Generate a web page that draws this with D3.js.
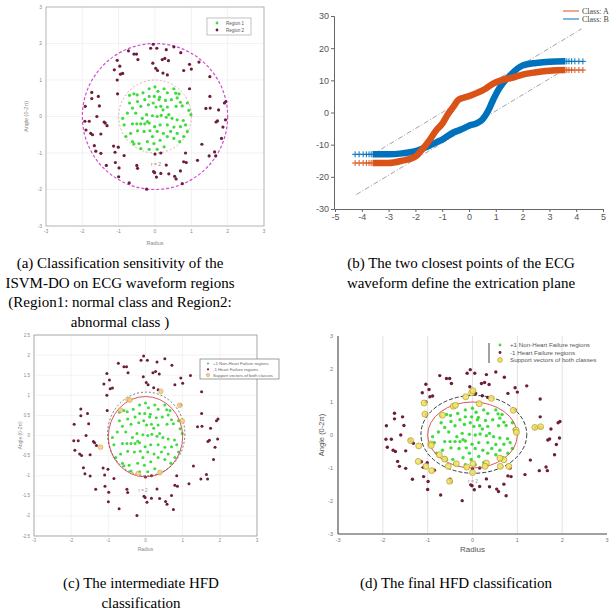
<!DOCTYPE html>
<html>
<head>
<meta charset="utf-8">
<title>ISVM-DO HFD figure</title>
<script src="https://d3js.org/d3.v7.min.js"></script>
<style>
    body { margin: 0; background: #fff; }
    svg { display: block; font-family: "Liberation Sans", Arial, sans-serif; }
    .cap { font-family: "Liberation Serif", "Times New Roman", serif; font-size: 15px; fill: #000; text-anchor: middle; }
</style>
</head>
<body>
<svg id="fig" width="616" height="612"></svg>
<script>
    // shared scatter data (radius, angle) used by panels a, c, d
    const region1 = [
        [-0.7,0.58],[-0.58,0.62],[-0.49,0.59],[-0.33,0.65],[-0.16,0.76],[0,0.81],[0.08,0.69],[0.25,0.76],
        [0.34,0.65],[0.57,0.64],[0.66,0.62],[0.52,0.76],[-0.02,0.55],[0.13,0.53],[0.29,0.44],[0.70,0.39],
        [0.89,0.37],[0.93,0.17],[0.99,0.05],[0.75,0.29],[0.58,0.28],[0.34,0.26],[0.16,0.28],[0.03,0.26],
        [-0.18,0.32],[-0.28,0.46],[-0.48,0.41],[-0.70,0.37],[-0.76,0.09],[-0.89,-0.05],[-0.85,-0.23],[-0.62,-0.2],
        [-0.50,-0.2],[-0.39,-0.2],[-0.28,-0.2],[-0.21,-0.14],[-0.23,0.05],[-0.07,0.02],[0.06,0],[0.17,0.03],
        [0.31,-0.02],[0.38,0.05],[0.47,-0.05],[0.61,-0.09],[0.78,-0.11],[0.84,-0.23],[0.70,-0.28],[0.52,-0.29],
        [0.34,-0.23],[0.14,-0.23],[-0.01,-0.28],[-0.14,-0.39],[-0.30,-0.41],[-0.48,-0.39],[-0.67,-0.46],[-0.80,-0.55],
        [-0.62,-0.69],[-0.44,-0.74],[-0.21,-0.69],[-0.03,-0.74],[0.14,-0.65],[0.34,-0.55],[0.52,-0.60],[0.68,-0.69],
        [0.79,-0.55],[0.89,-0.41],[0.25,-0.83],[0.06,-0.90],[-0.16,-0.90],[-0.39,-0.88],[-0.58,-0.75],[-0.07,-0.55],
        [-0.16,-0.18],[-0.35,-0.05],[-0.53,0.09],[0.11,0.46],[-0.05,0.37],[0.22,0.18],[0.45,0.46],[0.61,0.51],
        [-0.16,0.55],[-0.39,0.28],[-0.62,0.23],[0.06,-0.41],[0.23,-0.46],[0.43,-0.41],[0.61,-0.46]
    ];
    const region2 = [
        [-0.05,1.98],[-0.12,1.87],[0.05,1.87],[0.31,1.83],[0.52,1.91],[0.71,1.75],[-0.73,1.80],[-0.51,1.71],
        [-0.47,1.56],[-0.06,1.46],[0.27,1.59],[0.37,1.53],[0.02,1.32],[0.07,1.26],[0.22,1.19],[0.34,1.14],
        [0.79,1.26],[0.95,1.43],[1.00,1.30],[1.21,1.49],[-1.04,1.54],[-1.12,1.28],[-0.89,1.18],[-1.04,1.00],
        [1.51,1.09],[0.95,0.76],[1.51,0.55],[1.95,0.41],[1.91,0.37],[1.40,0.22],[1.52,0.23],[1.75,0.18],
        [1.94,-0.09],[1.87,-0.29],[1.83,-0.60],[1.29,-0.76],[1.64,-0.97],[1.49,-1.08],[1.17,-1.20],[0.79,-1.24],
        [0.84,-1.00],[0.70,-1.49],[0.58,-1.71],[0.54,-1.64],[0.75,-1.84],[0.38,-1.57],[0.31,-1.33],[0.16,-1.0],
        [0,-1.03],[-0.01,-1.54],[0.04,-1.66],[-0.23,-1.99],[-0.71,-1.82],[-1.00,-1.65],[-0.50,-1.34],[-0.48,-1.42],
        [-0.85,-1.07],[-1.10,-0.98],[-1.01,-0.84],[-1.14,-0.81],[-1.09,-1.26],[-1.34,-1.34],[-1.49,-1.01],[-1.63,-0.95],
        [-1.67,-0.80],[-1.72,-0.50],[-1.77,-0.46],[-1.49,-0.48],[-1.90,-0.37],[-1.93,-0.13],[-1.92,0.28],[-1.74,0.49],
        [-1.56,0.55],[-1.74,0.66],[-1.37,-0.18],[-1.32,-0.25],[-1.40,-0.15],[-1.03,0.62],[-1.53,0.29],[1.68,-0.15],
        [1.72,-0.12],[-0.97,1.38],[-0.58,1.71],[-1.6,0.0],[-1.81,-0.13],[0.16,-1.56],[-0.04,-1.51],[-0.99,-1.41],
        [1.67,-1.08],[0.86,-1.26],[0.2,1.56],[-0.95,1.16]
    ];
    // highlighted boundary points
    const supportC = [
        [-0.47,0.9],[-0.42,0.88],[-0.67,0.63],[0.41,1.1],[0.92,0.75],[0.99,0.36],[-1.21,-0.29],[0.39,-0.92],[-0.2,-0.95]
    ];
    const supportD = [
        [-0.02,1.28],[0.01,1.34],[-0.15,1.16],[0.15,0.95],[0.42,1.11],[0.91,0.75],[0.97,0.15],[0.98,0.08],
        [1.39,0.23],[1.52,0.25],[0.70,-0.75],[0.61,-0.70],[0.81,-0.95],[0.31,-0.85],[0.28,-0.95],[0.01,-0.87],
        [0,-1.14],[-0.13,-0.97],[-0.36,-0.87],[-0.54,-0.95],[-0.62,-0.73],[-0.74,-0.60],[-0.91,-1.08],[-1.04,-0.95],
        [-1.21,-0.80],[-1.20,-0.33],[-1.38,-0.17],[-0.93,-0.27],[-0.92,-0.32],[-1.06,0.63],[-1.08,0.97],[-0.67,0.60],
        [-0.43,0.87],[-0.38,0.90],[-0.51,-1.40],[0.62,-0.95]
    ];

    // panel b: the two class curves
    const classAX = [-3.6,-3,-2.5,-2,-1.8,-1.5,-1.2,-1,-0.8,-0.6,-0.4,-0.2,0,0.3,0.6,0.9,1.2,1.6,2,2.5,3,3.6];
    const classAY = [-15.7,-15.7,-15,-13.7,-12,-8.9,-5.3,-3.5,-0.7,1.6,3.9,4.6,5.1,6.1,7.3,9,10,10.8,11.8,12.5,13,13.2];
    const classBX = [-3.6,-3,-2.5,-2,-1.5,-1.2,-1,-0.6,-0.3,0,0.3,0.5,0.7,0.9,1.1,1.3,1.5,1.8,2,2.5,3,3.6];
    const classBY = [-13,-13,-12.7,-12,-10.4,-9.2,-8.4,-6.3,-5.3,-4.1,-3.3,-2.2,0.3,3.9,7.1,9.5,11.2,13.6,14.6,15.4,15.8,15.9];
    const plusLeftX = [-4.25,-4.1,-3.95,-3.83,-3.73,-3.65];
    const plusRightX = [3.65,3.73,3.83,3.95,4.1,4.25];
    const upperSepX = [-3.6, 4.2], upperSepY = [-13, 26];
    const lowerSepX = [-4.2, 3.6], lowerSepY = [-25.5, 13.5];

    const ticks6 = [-3,-2,-1,0,1,2,3];
    const ticksBX = [-5,-4,-3,-2,-1,0,1,2,3,4,5];
    const ticksBY = [-30,-20,-10,0,10,20,30];
    const ticksCY = [-2.5,-2,-1.5,-1,-0.5,0,0.5,1,1.5,2,2.5];

    const legendA = ["Region 1", "Region 2"];
    const legendB = ["Class: A", "Class: B"];
    const legendCD = ["+1 Non-Heart Failure regions", "-1 Heart Failure regions", "Support vectors of both classes"];

    const GREEN = "#3fdc3f", RED = "#6e1c3c", ORANGE = "#d95319", BLUE = "#0072bd";

    const svg = d3.select("#fig");

    function grid(g, x, y, xt, yt, color, vOnly) {
        g.append("g").selectAll("line").data(xt).join("line")
            .attr("x1", d => x(d)).attr("x2", d => x(d))
            .attr("y1", y.range()[0]).attr("y2", y.range()[1])
            .attr("stroke", color).attr("stroke-width", 0.7);
        if (!vOnly) {
            g.append("g").selectAll("line").data(yt).join("line")
                .attr("y1", d => y(d)).attr("y2", d => y(d))
                .attr("x1", x.range()[0]).attr("x2", x.range()[1])
                .attr("stroke", color).attr("stroke-width", 0.7);
        }
    }

    function tickLabels(g, x, y, xt, yt, size, color, dx, dy) {
        g.append("g").selectAll("text").data(xt).join("text")
            .attr("x", d => x(d)).attr("y", y.range()[0] + dy)
            .attr("text-anchor", "middle").attr("font-size", size).attr("fill", color)
            .text(d => d);
        g.append("g").selectAll("text").data(yt).join("text")
            .attr("x", x.range()[0] - dx).attr("y", d => y(d) + size * 0.35)
            .attr("text-anchor", "end").attr("font-size", size).attr("fill", color)
            .text(d => d);
    }

    function dots(g, x, y, pts, color, r) {
        g.append("g").selectAll("circle").data(pts).join("circle")
            .attr("cx", d => x(d[0])).attr("cy", d => y(d[1]))
            .attr("r", r).attr("fill", color);
    }

    function ring(g, x, y, cx, cy, rad, color, width, dash) {
        g.append("ellipse")
            .attr("cx", x(cx)).attr("cy", y(cy))
            .attr("rx", x(rad) - x(0)).attr("ry", y(0) - y(rad))
            .attr("fill", "none").attr("stroke", color)
            .attr("stroke-width", width).attr("stroke-dasharray", dash);
    }

    // ---------- panel (a) ----------
    {
        const x = d3.scaleLinear().domain([-3, 3]).range([46, 264]);
        const y = d3.scaleLinear().domain([-3, 3]).range([226, 7]);
        const g = svg.append("g");
        grid(g, x, y, ticks6, ticks6, "#ececec");
        g.append("rect").attr("x", 46).attr("y", 7).attr("width", 218).attr("height", 219)
            .attr("fill", "none").attr("stroke", "#aaa").attr("stroke-width", 0.8);
        tickLabels(g, x, y, ticks6, ticks6, 5, "#888", 4, 7);
        g.append("text").attr("x", x(0)).attr("y", 245).attr("text-anchor", "middle")
            .attr("font-size", 5.5).attr("fill", "#888").text("Radius");
        g.append("text").attr("transform", `translate(28,${y(0)}) rotate(-90)`).attr("text-anchor", "middle")
            .attr("font-size", 5.5).attr("fill", "#888").text("Angle (0-2π)");
        ring(g, x, y, 0, 0, 2, "#d24ad2", 1.2, "3,2");
        ring(g, x, y, 0, 0, 1, "#d79a9a", 0.8, "2,2");
        dots(g, x, y, region2, RED, 1.6);
        dots(g, x, y, region1, GREEN, 1.6);
        g.append("text").attr("x", 156).attr("y", 166).attr("text-anchor", "middle")
            .attr("font-size", 5).attr("fill", "#c07070").text("r = 2");
        // legend
        g.append("rect").attr("x", 207).attr("y", 18).attr("width", 44).attr("height", 17)
            .attr("fill", "#fff").attr("stroke", "#999").attr("stroke-width", 0.6);
        legendA.forEach((t, i) => {
            g.append("circle").attr("cx", 217).attr("cy", 23 + i * 7).attr("r", 1.4)
                .attr("fill", i === 0 ? GREEN : RED);
            g.append("text").attr("x", 226).attr("y", 24.6 + i * 7).attr("font-size", 4.5)
                .attr("fill", "#555").text(t);
        });
    }

    // ---------- panel (b) ----------
    {
        const x = d3.scaleLinear().domain([-5, 5]).range([335, 603]);
        const y = d3.scaleLinear().domain([-30, 30]).range([209, 16]);
        const g = svg.append("g");
        const xAxis = d3.axisBottom(x).tickValues(ticksBX).tickFormat(d => d).tickSize(3).tickPadding(2);
        const yAxis = d3.axisLeft(y).tickValues(ticksBY).tickFormat(d => d).tickSize(3).tickPadding(2);
        g.append("g").attr("transform", "translate(0,209)").call(xAxis);
        g.append("g").attr("transform", "translate(334,0)").call(yAxis);
        g.selectAll(".domain, .tick line").attr("stroke", "#666");
        g.selectAll(".tick text").attr("fill", "#555").attr("font-size", 9)
            .attr("font-family", "Liberation Sans, Arial, sans-serif");

        const sep = (xs, ys) => g.append("line")
            .attr("x1", x(xs[0])).attr("y1", y(ys[0])).attr("x2", x(xs[1])).attr("y2", y(ys[1]))
            .attr("stroke", "#999").attr("stroke-width", 0.9).attr("stroke-dasharray", "5,2,1,2");
        sep(upperSepX, upperSepY);
        sep(lowerSepX, lowerSepY);

        const line = d3.line().x(d => x(d[0])).y(d => y(d[1])).curve(d3.curveMonotoneX);
        const drawClass = (xs, ys, color) => {
            const pts = xs.map((v, i) => [v, ys[i]]);
            g.append("path").datum(pts).attr("d", line).attr("fill", "none")
                .attr("stroke", color).attr("stroke-width", 6.5);
            const yl = ys[0], yr = ys[ys.length - 1];
            const plus = plusLeftX.map(v => [v, yl]).concat(plusRightX.map(v => [v, yr]));
            g.append("g").selectAll("path").data(plus).join("path")
                .attr("d", d => `M${x(d[0]) - 3},${y(d[1])}h6M${x(d[0])},${y(d[1]) - 3}v6`)
                .attr("stroke", color).attr("stroke-width", 1);
        };
        drawClass(classBX, classBY, BLUE);
        drawClass(classAX, classAY, ORANGE);

        legendB.forEach((t, i) => {
            g.append("line").attr("x1", 563).attr("x2", 579).attr("y1", 11 + i * 8).attr("y2", 11 + i * 8)
                .attr("stroke", i === 0 ? ORANGE : BLUE).attr("stroke-width", 1);
            g.append("text").attr("x", 582).attr("y", 13.5 + i * 8).attr("font-size", 8)
                .attr("font-family", "Liberation Serif, serif").attr("fill", "#444").text(t);
        });
    }

    // ---------- panel (c) ----------
    {
        const x = d3.scaleLinear().domain([-3, 3]).range([34, 257]);
        const y = d3.scaleLinear().domain([-2.5, 2.5]).range([536, 335]);
        const g = svg.append("g");
        grid(g, x, y, ticks6, ticksCY, "#efefef");
        g.append("rect").attr("x", 34).attr("y", 335).attr("width", 223).attr("height", 201)
            .attr("fill", "none").attr("stroke", "#999").attr("stroke-width", 0.8);
        tickLabels(g, x, y, ticks6, ticksCY, 4.5, "#888", 4, 6);
        g.append("text").attr("x", x(0)).attr("y", 551).attr("text-anchor", "middle")
            .attr("font-size", 5).attr("fill", "#888").text("Radius");
        g.append("text").attr("transform", `translate(22,${y(0)}) rotate(-90)`).attr("text-anchor", "middle")
            .attr("font-size", 5).attr("fill", "#888").text("Angle (0-2π)");
        dots(g, x, y, region2, RED, 1.5);
        dots(g, x, y, region1, GREEN, 1.5);
        ring(g, x, y, 0, -0.03, 1.0, "#d04848", 0.9, null);
        ring(g, x, y, 0.02, 0.04, 1.04, "#555", 0.8, "2,2");
        g.append("g").selectAll("circle").data(supportC).join("circle")
            .attr("cx", d => x(d[0])).attr("cy", d => y(d[1])).attr("r", 2.4)
            .attr("fill", "#f3cf8a").attr("stroke", "#d49a40").attr("stroke-width", 0.6).attr("opacity", 0.9);
        g.append("text").attr("x", 143).attr("y", 492).attr("text-anchor", "middle")
            .attr("font-size", 4.5).attr("fill", "#999").text("r = 2");
        g.append("rect").attr("x", 200).attr("y", 359).attr("width", 79).attr("height", 20)
            .attr("fill", "#fff").attr("stroke", "#777").attr("stroke-width", 0.7);
        legendCD.forEach((t, i) => {
            const cy = 363.5 + i * 5.8;
            if (i < 2) {
                g.append("circle").attr("cx", 208).attr("cy", cy).attr("r", 1.1).attr("fill", i === 0 ? GREEN : RED);
            } else {
                g.append("circle").attr("cx", 208).attr("cy", cy).attr("r", 1.7)
                    .attr("fill", "#f3cf8a").attr("stroke", "#d49a40").attr("stroke-width", 0.5);
            }
            g.append("text").attr("x", 213).attr("y", cy + 1.5).attr("font-size", 4.3)
                .attr("fill", "#666").text(t);
        });
    }

    // ---------- panel (d) ----------
    {
        const x = d3.scaleLinear().domain([-3, 3]).range([338, 607]);
        const y = d3.scaleLinear().domain([-3, 3]).range([534, 336]);
        const g = svg.append("g");
        grid(g, x, y, ticks6.slice(1, -1), ticks6, "#d6d6d6", true);
        g.append("line").attr("x1", 338).attr("x2", 338).attr("y1", 336).attr("y2", 534)
            .attr("stroke", "#444").attr("stroke-width", 1.1);
        g.append("line").attr("x1", 338).attr("x2", 607).attr("y1", 534).attr("y2", 534)
            .attr("stroke", "#444").attr("stroke-width", 1.1);
        tickLabels(g, x, y, ticks6, ticks6, 5.5, "#777", 5, 8);
        g.append("text").attr("x", x(0)).attr("y", 552).attr("text-anchor", "middle")
            .attr("font-size", 8).attr("fill", "#555").text("Radius");
        g.append("text").attr("transform", `translate(324,${y(0)}) rotate(-90)`).attr("text-anchor", "middle")
            .attr("font-size", 7.5).attr("fill", "#555").text("Angle (0-2π)");
        dots(g, x, y, region2, RED, 1.7);
        dots(g, x, y, region1, GREEN, 1.7);
        ring(g, x, y, 0, 0, 1.0, "#d04848", 0.9, null);
        ring(g, x, y, 0.03, 0.02, 1.18, "#222", 0.9, "4,2");
        g.append("g").selectAll("circle").data(supportD).join("circle")
            .attr("cx", d => x(d[0])).attr("cy", d => y(d[1])).attr("r", 3)
            .attr("fill", "#f2e36c").attr("stroke", "#a8951f").attr("stroke-width", 0.7).attr("opacity", 0.9);
        g.append("text").attr("x", 473).attr("y", 483).attr("text-anchor", "middle")
            .attr("font-size", 5).attr("fill", "#999").text("r = 2");
        g.append("line").attr("x1", 489).attr("x2", 489).attr("y1", 343).attr("y2", 363)
            .attr("stroke", "#555").attr("stroke-width", 1.1);
        legendCD.forEach((t, i) => {
            const cy = 345 + i * 7.5;
            if (i < 2) {
                g.append("circle").attr("cx", 500).attr("cy", cy).attr("r", 1.4).attr("fill", i === 0 ? GREEN : RED);
            } else {
                g.append("circle").attr("cx", 500).attr("cy", cy).attr("r", 2.4)
                    .attr("fill", "#f2e36c").attr("stroke", "#a8951f").attr("stroke-width", 0.6);
            }
            g.append("text").attr("x", 510).attr("y", cy + 2).attr("font-size", 6.2)
                .attr("fill", "#555").text(t);
        });
    }

    // ---------- captions ----------
    const captions = [
        { x: 120, y: 268, lines: ["(a) Classification sensitivity of the", "ISVM-DO on ECG waveform regions",
                                  "(Region1: normal class and Region2:", "abnormal class )"] },
        { x: 461, y: 268, lines: ["(b) The two closest points of the ECG", "waveform define the extrication plane"] },
        { x: 141, y: 588, lines: ["(c) The intermediate HFD", "classification"] },
        { x: 456, y: 588, lines: ["(d) The final HFD classification"] }
    ];
    captions.forEach(c => {
        c.lines.forEach((t, i) => {
            svg.append("text").attr("class", "cap").attr("x", c.x).attr("y", c.y + i * 19.7).text(t);
        });
    });
</script>
</body>
</html>
